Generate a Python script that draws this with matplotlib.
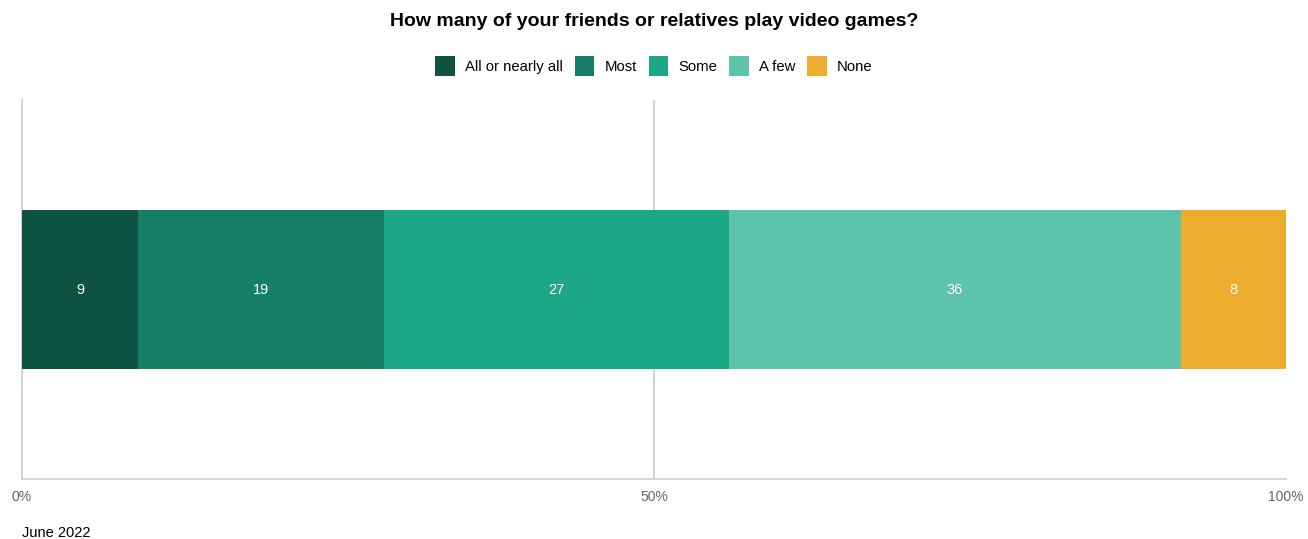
import matplotlib.pyplot as plt
from matplotlib.patches import Patch
from matplotlib.ticker import FixedLocator

plt.rcParams['font.family'] = ['Liberation Sans', 'DejaVu Sans']

categories = ['All or nearly all', 'Most', 'Some', 'A few', 'None']
# shares as drawn (unrounded estimates) and the rounded labels shown on the bar
shares = [9.2, 19.4, 27.3, 35.8, 8.3]
labels = [9, 19, 27, 36, 8]
colors = ['#0E5241', '#167E66', '#1CA886', '#5DC3AA', '#ECAC2E']
x_ticks = [0, 50, 100]
x_tick_labels = ['0%', '50%', '100%']

fig = plt.figure(figsize=(13.08, 5.39), dpi=100)
ax = fig.add_axes([22 / 1308, 60 / 539, 1264 / 1308, 379 / 539])

left = 0
for cat, share, val, col in zip(categories, shares, labels, colors):
    ax.barh(0, share, left=left, height=0.417, color=col, label=cat, zorder=3)
    ax.text(left + share / 2, 0, str(val), ha='center', va='center',
            color='white', fontsize=10.5, zorder=4)
    left += share

ax.set_xlim(0, 100)
ax.set_ylim(-0.5, 0.5)
ax.xaxis.set_major_locator(FixedLocator(x_ticks))
ax.set_xticklabels(x_tick_labels)
ax.set_yticks([])
ax.tick_params(axis='x', length=0, pad=8, labelsize=10, labelcolor='#666666')
ax.axvline(50, color='#c8c8c8', lw=1.2, zorder=1)
for s in ['top', 'right']:
    ax.spines[s].set_visible(False)
for s in ['left', 'bottom']:
    ax.spines[s].set_color('#cccccc')
    ax.spines[s].set_linewidth(1.2)

handles = [Patch(facecolor=c, label=l) for c, l in zip(colors, categories)]
fig.legend(handles=handles, loc='center', bbox_to_anchor=(0.5, 1 - 66 / 539),
           ncol=5, frameon=False, fontsize=10.7, handlelength=1.3, handleheight=1.7,
           handletextpad=0.7, columnspacing=0.8)

fig.text(0.5, 1 - 21 / 539, 'How many of your friends or relatives play video games?',
         ha='center', va='center', fontsize=14, fontweight='bold')
fig.text(22 / 1308, 1 - 533 / 539, 'June 2022', ha='left', va='center', fontsize=10.5)

fig.savefig('out.png', dpi=100)
